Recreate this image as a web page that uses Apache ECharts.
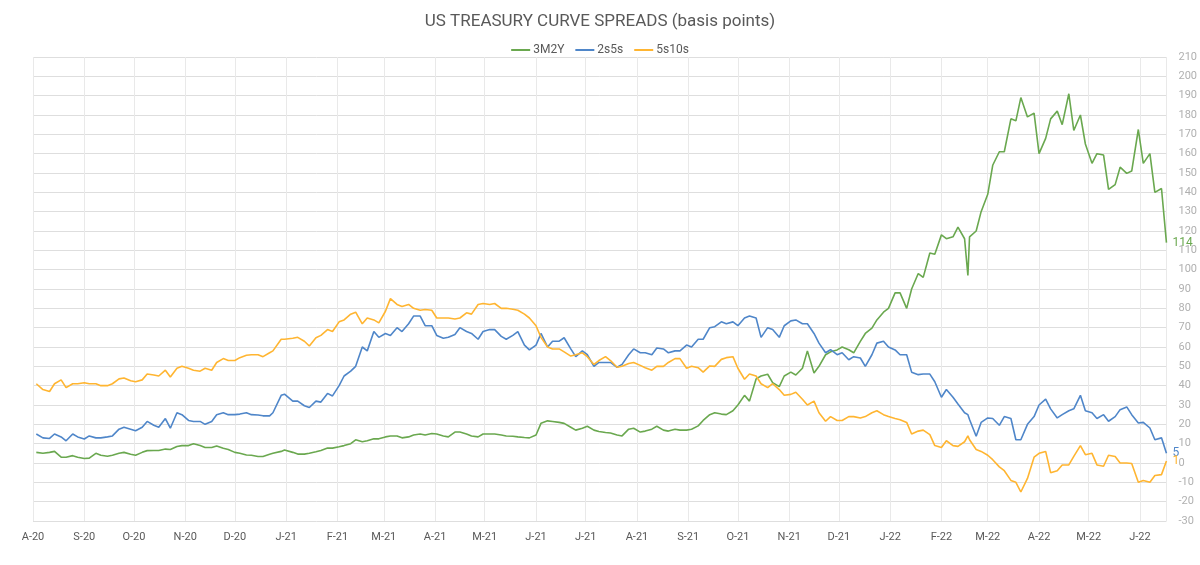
<!DOCTYPE html>
<html>
<head>
<meta charset="utf-8">
<script src="https://cdn.jsdelivr.net/npm/echarts@6/dist/echarts.min.js"></script>
<style>
  html, body { margin: 0; padding: 0; background: #fff; }
  #chart { width: 1200px; height: 565px; }
</style>
</head>
<body>
<div id="chart"></div>
<script>
  // twice-weekly samples
  const dates = [
    '2020-08-03','2020-08-07','2020-08-11','2020-08-14','2020-08-18','2020-08-21','2020-08-25','2020-08-28',
    '2020-09-01','2020-09-04','2020-09-08','2020-09-11','2020-09-15','2020-09-18','2020-09-22','2020-09-25','2020-09-29',
    '2020-10-02','2020-10-06','2020-10-09','2020-10-13','2020-10-16','2020-10-20','2020-10-23','2020-10-27','2020-10-30',
    '2020-11-03','2020-11-06','2020-11-10','2020-11-13','2020-11-17','2020-11-20','2020-11-24','2020-11-27',
    '2020-12-01','2020-12-04','2020-12-08','2020-12-11','2020-12-15','2020-12-18','2020-12-22','2020-12-24','2020-12-29','2020-12-31',
    '2021-01-05','2021-01-08','2021-01-12','2021-01-15','2021-01-19','2021-01-22','2021-01-26','2021-01-29',
    '2021-02-02','2021-02-05','2021-02-09','2021-02-12','2021-02-16','2021-02-19','2021-02-23','2021-02-26',
    '2021-03-02','2021-03-05','2021-03-09','2021-03-12','2021-03-16','2021-03-19','2021-03-23','2021-03-26','2021-03-30',
    '2021-04-02','2021-04-06','2021-04-09','2021-04-13','2021-04-16','2021-04-20','2021-04-23','2021-04-27','2021-04-30',
    '2021-05-04','2021-05-07','2021-05-11','2021-05-14','2021-05-18','2021-05-21','2021-05-25','2021-05-28',
    '2021-06-01','2021-06-04','2021-06-08','2021-06-11','2021-06-15','2021-06-18','2021-06-22','2021-06-25','2021-06-29',
    '2021-07-02','2021-07-06','2021-07-09','2021-07-13','2021-07-16','2021-07-20','2021-07-23','2021-07-27','2021-07-30',
    '2021-08-03','2021-08-06','2021-08-10','2021-08-13','2021-08-17','2021-08-20','2021-08-24','2021-08-27','2021-08-31',
    '2021-09-03','2021-09-07','2021-09-10','2021-09-14','2021-09-17','2021-09-21','2021-09-24','2021-09-28',
    '2021-10-01','2021-10-05','2021-10-08','2021-10-12','2021-10-15','2021-10-19','2021-10-22','2021-10-26','2021-10-29',
    '2021-11-02','2021-11-05','2021-11-09','2021-11-12','2021-11-16','2021-11-19','2021-11-23','2021-11-26','2021-11-30',
    '2021-12-03','2021-12-07','2021-12-10','2021-12-14','2021-12-17','2021-12-21','2021-12-24','2021-12-28','2021-12-31',
    '2022-01-04','2022-01-07','2022-01-11','2022-01-14','2022-01-18','2022-01-21','2022-01-25','2022-01-28',
    '2022-02-01','2022-02-04','2022-02-08','2022-02-11','2022-02-15','2022-02-17','2022-02-18','2022-02-22','2022-02-25',
    '2022-03-01','2022-03-04','2022-03-08','2022-03-11','2022-03-15','2022-03-18','2022-03-21','2022-03-25','2022-03-29',
    '2022-04-01','2022-04-05','2022-04-08','2022-04-12','2022-04-15','2022-04-19','2022-04-22','2022-04-26','2022-04-29',
    '2022-05-03','2022-05-06','2022-05-10','2022-05-13','2022-05-17','2022-05-20','2022-05-24','2022-05-27','2022-05-31',
    '2022-06-03','2022-06-07','2022-06-10','2022-06-14','2022-06-17'
  ];

  const spread3m2y = [
    5.5,5,5.5,6,3,3,3.8,3,
    2.3,2.5,5,4,3.5,4,5,5.5,4.5,
    4,5.5,6.4,6.5,6.5,7.2,7,8.5,9,
    9,10,9,8,8,8.8,7.6,7,
    5.5,5,4.1,4,3.4,3.4,4.5,5,6,6.7,
    5.5,4.6,4.6,5,5.8,6.5,7.7,7.7,
    8.4,9,10,12,11,11.5,12.5,12.5,
    13.5,14,14,13,13.5,14.5,15,14.5,15.3,
    15,14,13.5,16,16,15,14,13.5,15,
    15,15,14.5,14,13.8,13.5,13.2,13,
    14.5,20.5,21.8,21.5,21,20.5,18.5,17,18,
    19,17,16.3,15.8,15.5,14.5,14,17.5,18,
    16,16.5,17.5,19,17,16.5,17.5,17,17,
    17.5,19.2,22,25,26,25.3,25,27,
    30,35,32,43.5,45,45.9,41.6,39.5,45,
    47,45.5,49,58,46.6,50,56,57.5,58.5,
    60,58.6,57,62.9,67,69.8,74,78,80,
    88,88,80,90,98,96,108.6,108,
    118,116,117,122,116,97,117,120,130,
    139,154,161,161,178,177,189,179,181,
    160,167.9,178,182,175,191,172,180,165,
    155,160,159.3,141.5,144,153,149.8,151,172.5,
    155,160,140,142,114
  ];

  const spread2s5s = [
    15,13,12.7,15,13.5,11.5,15,13.5,
    12.4,14,13,13,13.5,14,17.5,18.5,17.5,
    16.7,18.5,21.5,19.5,18.5,23,18,26,25,
    22,21.5,21.5,20,21.5,25,26,25,
    25,25.3,26,25,24.8,24.4,24.4,26,35,35.6,
    32,32,29.6,28.7,32,31.5,36,34.7,
    40,45,47.5,50,60,58,68,65,
    67,66,70,68,72,76,76,71,71,
    66,64.5,65,66.5,70,68,67,64,68,
    69,69,65.5,64,66,68,61,58.5,
    61,67,60,63,63,64.8,59,55,58,
    56,50,52,52,52,49.5,51,56,59,
    57,57,56,59.5,59,57,58,58,61,
    60,64,64,70,70.5,73,72,73,
    71,75,76,75,65,70,69,65,71,
    73.5,74,72,72,67,62,57,58.6,56,
    57,53.4,55,54.3,50,56,62,63,60,
    58.5,56,56,47,45.7,46,46,42,
    34,38,34,30.5,26,25,22.5,13.8,21,
    23.3,23,19.5,24,23,12,12,20,24,
    30,33,28,23.3,25,27,28,35,27,
    26,23,25,21.6,24,27.6,29,25,20.7,
    21,18.1,12,13,5
  ];

  const spread5s10s = [
    41,38,37,41,43,39,41,41,
    41.5,41,41,40,40,41,43.5,44,42.5,
    42,43,46,45.5,45,48,44.5,49,50,
    49,48,47.5,49,48,52,54,53,
    53,54.5,55.7,56,56,55,57,58,64,64,
    64.5,65,63,60.5,64.8,66,69,68,
    73,74,77,78,72,75,74,72.5,
    78.5,85,82,81,82,80,79,79.4,79,
    75,75,75,74.5,75,77.7,77,82,82.5,
    82,82.5,80,80,79.5,79,77,75,
    71,65,60,59,59,57.5,55.3,56,57,
    55,51,53,55,53,49.5,50,51.5,52,
    50.5,49.3,48,50,50,52,54,54,49,
    50,49.3,47,50.2,50,53.6,54.5,55,
    49,43.3,46,45,41,39,41,38,35,
    35.5,36.6,33,30,32,26,21.6,24,22,
    22,24,24,23.3,24,26,27,25,24,
    23,22.4,21,15,16.5,17,14.7,9,
    8,11.5,9,8.6,11,14,12,7,6,
    4,1.7,-2,-4,-9,-10,-15,-8,3,
    5,6,-5,-4,-1,-1,3.4,9,4.3,
    5,-1,-1.7,4,3.4,0,0,-0.3,-10,
    -9,-10,-6.5,-6,1
  ];

  const seriesNames = ['3M2Y', '2s5s', '5s10s'];
  const seriesColors = ['#6aa84f', '#4f86c9', '#ffb531'];
  const monthLetters = ['J', 'F', 'M', 'A', 'M', 'J', 'J', 'A', 'S', 'O', 'N', 'D'];
  const DAY = 24 * 3600 * 1000;

  const chart = echarts.init(document.getElementById('chart'));

  function toPairs(vals) {
    return dates.map((d, i) => [d, vals[i]]);
  }

  function makeSeries(name, vals, color) {
    return {
      name: name,
      type: 'line',
      data: toPairs(vals),
      showSymbol: false,
      symbol: 'none',
      color: color,
      lineStyle: { width: 1.6, color: color },
      emphasis: { disabled: true },
      labelLayout: { hideOverlap: false },
      endLabel: {
        show: true,
        color: color,
        fontSize: 12,
        distance: 6,
        formatter: p => String(Math.round(p.value[1]))
      }
    };
  }

  chart.setOption({
    animation: false,
    textStyle: { fontFamily: 'Roboto' },
    title: {
      text: 'US TREASURY CURVE SPREADS (basis points)',
      left: 'center',
      top: 8,
      textStyle: { fontSize: 17, fontWeight: 'normal', color: '#595959' }
    },
    legend: {
      top: 39,
      left: 'center',
      icon: 'rect',
      itemWidth: 19,
      itemHeight: 2,
      itemGap: 11,
      textStyle: { fontSize: 12, color: '#595959', padding: [0, 0, 0, -2] },
      data: seriesNames
    },
    grid: { left: 33, right: 30, top: 57, bottom: 44 },
    xAxis: {
      type: 'time',
      min: '2020-08-01',
      max: '2022-06-17',
      splitNumber: 23,
      minInterval: 28 * DAY,
      maxInterval: 31 * DAY,
      axisLine: { show: false },
      axisTick: { show: false },
      splitLine: { show: true, lineStyle: { color: '#e9e9e9' } },
      axisLabel: {
        color: '#595959',
        fontSize: 11,
        margin: 11,
        showMaxLabel: false,
        formatter: v => {
          const d = new Date(v);
          return monthLetters[d.getMonth()] + '-' + String(d.getFullYear()).slice(2);
        }
      }
    },
    yAxis: {
      type: 'value',
      position: 'right',
      min: -30,
      max: 210,
      interval: 10,
      axisLine: { show: false },
      axisTick: { show: false },
      splitLine: { lineStyle: { color: '#dedede' } },
      axisLabel: { color: '#b0b0b0', fontSize: 11, margin: 12 }
    },
    series: [
      makeSeries(seriesNames[0], spread3m2y, seriesColors[0]),
      makeSeries(seriesNames[1], spread2s5s, seriesColors[1]),
      makeSeries(seriesNames[2], spread5s10s, seriesColors[2])
    ]
  });
</script>
</body>
</html>
